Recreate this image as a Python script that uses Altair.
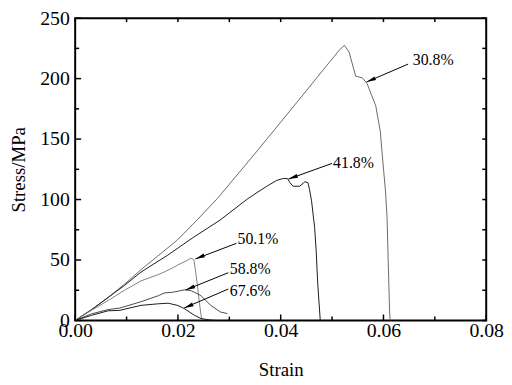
import altair as alt
import pandas as pd

# ---- data ----
s308_x = [0, 0.0032, 0.0064, 0.0096, 0.0128, 0.016, 0.0199, 0.0237, 0.0277, 0.0346, 0.040, 0.045, 0.0488,
          0.0515, 0.0524, 0.0533, 0.0546, 0.0559, 0.0568, 0.0585, 0.0594, 0.0597, 0.0604, 0.0607, 0.0609,
          0.0612, 0.0613]
s308_y = [0, 9, 19, 30, 42, 53, 66.6, 83, 101, 136, 164, 190, 210,
          224, 227.5, 222, 202, 200.6, 196, 177.5, 155.8, 140, 107, 85, 53,
          7, 0]

s418_x = [0, 0.0032, 0.0064, 0.0096, 0.0128, 0.018, 0.0231, 0.0282, 0.0335, 0.0354, 0.0373, 0.0392,
          0.0405, 0.0413, 0.0418, 0.0424, 0.0437, 0.0447, 0.0453, 0.0456, 0.046, 0.0466, 0.0469, 0.0472,
          0.0477]
s418_y = [0, 9, 19, 29, 40, 54, 69, 83, 100.4, 105.8, 111, 115.8,
          117.4, 117.4, 114, 111, 111, 114.7, 114, 108.5, 99, 77, 58, 31,
          0]

s501_x = [0, 0.0032, 0.0064, 0.0096, 0.0128, 0.0162, 0.0173, 0.0192, 0.020, 0.0215, 0.0225, 0.0231,
          0.0234, 0.0238, 0.0242, 0.0245, 0.0247]
s501_y = [0, 8.5, 16.5, 25, 32.7, 38, 40, 44, 46, 49, 51.5, 50.3,
          42, 28.6, 14, 4, 0]

s588_x = [0, 0.0032, 0.0064, 0.0087, 0.0128, 0.0162, 0.0173, 0.0192, 0.0213, 0.0226, 0.0245, 0.0264,
          0.0283, 0.0296]
s588_y = [0, 5.5, 9, 10.3, 15.5, 20.5, 22.7, 23.5, 25.4, 24.6, 20.5, 12.4,
          7, 5.7]

s676_x = [0, 0.0032, 0.0064, 0.0087, 0.0128, 0.0162, 0.0181, 0.020, 0.0213, 0.0232, 0.0245, 0.0264,
          0.0275]
s676_y = [0, 4.3, 8, 8.4, 12.5, 13.8, 14.3, 12.4, 9.7, 4.3, 1.6, 0.3,
          0]

series_names = ["30.8%", "41.8%", "50.1%", "58.8%", "67.6%"]
series_colors = ["#6a6a6a", "#1a1a1a", "#808080", "#4a4a4a", "#1a1a1a"]

# annotations
ann_text_x = [0.0657, 0.0502, 0.0316, 0.0301, 0.0301]
ann_text_y = [215.3, 130.0, 67.4, 42.2, 24.6]
arrow_x1 = [0.0648, 0.0500, 0.0314, 0.0298, 0.0298]
arrow_y1 = [212.0, 129.9, 63.8, 39.5, 26.0]
arrow_x2 = [0.0567, 0.0415, 0.0234, 0.0215, 0.0212]
arrow_y2 = [197.2, 116.9, 50.9, 25.2, 10.3]
arrow_angle = [247, 250, 248, 248, 247]

x_major = [0, 0.02, 0.04, 0.06, 0.08]
x_minor = [0.01, 0.03, 0.05, 0.07]
y_major = [0, 50, 100, 150, 200, 250]
y_minor = [25, 75, 125, 175, 225]

# ---- tables ----
rows = []
for name, xs_, ys_ in zip(series_names, [s308_x, s418_x, s501_x, s588_x, s676_x],
                          [s308_y, s418_y, s501_y, s588_y, s676_y]):
    for i, (a, b) in enumerate(zip(xs_, ys_)):
        rows.append({"series": name, "order": i, "strain": a, "stress": b})
df = pd.DataFrame(rows)

ann = pd.DataFrame({
    "label": series_names, "tx": ann_text_x, "ty": ann_text_y,
    "x1": arrow_x1, "y1": arrow_y1, "x2": arrow_x2, "y2": arrow_y2, "ang": arrow_angle,
})

W, H = 416, 306
FONT = "Liberation Serif"
xs = alt.Scale(domain=[0, 0.08], nice=False, zero=False)
ys = alt.Scale(domain=[0, 250], nice=False, zero=False)

xaxis = alt.Axis(
    values=x_major, format=".2f", ticks=False, tickSize=0, domain=False, grid=False,
    labelFont=FONT, labelFontSize=20, labelColor="black", labelPadding=0,
    labelFlush=False, labelOverlap=False,
    title="Strain", titleFont=FONT, titleFontSize=19, titleFontWeight="normal",
    titleColor="black", titleX=W / 2, titleY=56, titleBaseline="alphabetic")
yaxis = alt.Axis(
    values=y_major, format="d", ticks=False, tickSize=0, domain=False, grid=False,
    labelFont=FONT, labelFontSize=20, labelColor="black", labelPadding=6,
    labelFlush=False, labelOverlap=False,
    title="Stress/MPa", titleFont=FONT, titleFontSize=19, titleFontWeight="normal",
    titleColor="black", titleX=-51, titleY=H / 2, titleBaseline="alphabetic")

lines = alt.Chart(df).mark_line(strokeWidth=1, clip=True).encode(
    x=alt.X("strain:Q", scale=xs, axis=xaxis),
    y=alt.Y("stress:Q", scale=ys, axis=yaxis),
    color=alt.Color("series:N", scale=alt.Scale(domain=series_names, range=series_colors), legend=None),
    detail="series:N",
    order="order:Q",
)

def xticks(vals, y0, y1):
    return alt.Chart(pd.DataFrame({"v": vals})).mark_rule(color="black", strokeWidth=1.5).encode(
        x=alt.X("v:Q", scale=xs, axis=xaxis), y=alt.value(y0), y2=alt.value(y1))

def yticks(vals, x0, x1):
    return alt.Chart(pd.DataFrame({"v": vals})).mark_rule(color="black", strokeWidth=1.5).encode(
        y=alt.Y("v:Q", scale=ys, axis=yaxis), x=alt.value(x0), x2=alt.value(x1))

ticks = [
    xticks(x_major, H, H - 6), xticks(x_minor, H, H - 4),
    xticks(x_major, 0, 4), xticks(x_minor, 0, 4),
    yticks(y_major, 0, 6), yticks(y_minor, 0, 4),
    yticks(y_major, W, W - 4), yticks(y_minor, W, W - 4),
]

arrows = alt.Chart(ann).mark_rule(color="black", strokeWidth=1).encode(
    x=alt.X("x1:Q", scale=xs, axis=xaxis), y=alt.Y("y1:Q", scale=ys, axis=yaxis),
    x2="x2:Q", y2="y2:Q")

heads = alt.Chart(ann).mark_point(
    shape="M0,0L0.5,2.4L-0.5,2.4Z", filled=True, size=64, color="black", opacity=1,
).encode(
    x=alt.X("x2:Q", scale=xs, axis=xaxis), y=alt.Y("y2:Q", scale=ys, axis=yaxis),
    angle=alt.Angle("ang:Q", scale=None))

texts = alt.Chart(ann).mark_text(
    align="left", baseline="middle", font=FONT, fontSize=16, color="black",
).encode(
    x=alt.X("tx:Q", scale=xs, axis=xaxis), y=alt.Y("ty:Q", scale=ys, axis=yaxis), text="label:N")

chart = alt.layer(lines, *ticks, arrows, heads, texts).properties(
    width=W, height=H,
    background="white",
    autosize=alt.AutoSizeParams(type="none"),
    padding={"left": 68, "top": 8, "right": 18, "bottom": 60},
).configure_view(stroke="black", strokeWidth=2)

chart.save("out.html", embed_options={"renderer": "svg", "actions": False})
